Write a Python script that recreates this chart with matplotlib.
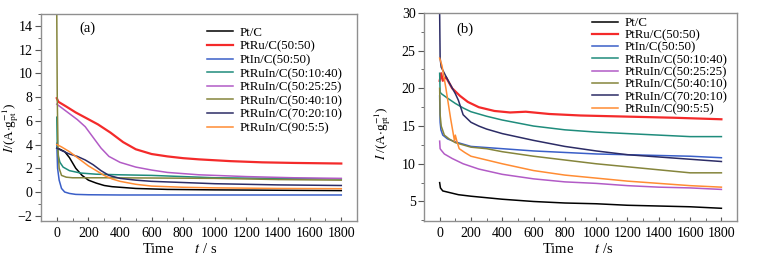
import numpy as np
import matplotlib
matplotlib.use('Agg')
from matplotlib import pyplot as plt
from matplotlib.ticker import MultipleLocator

plt.rcParams['font.family'] = ['Liberation Serif', 'DejaVu Serif']
plt.rcParams['mathtext.fontset'] = 'stix'
plt.rcParams['font.size'] = 10

labels = ['Pt/C', 'PtRu/C(50:50)', 'PtIn/C(50:50)', 'PtRuIn/C(50:10:40)',
          'PtRuIn/C(50:25:25)', 'PtRuIn/C(50:40:10)', 'PtRuIn/C(70:20:10)',
          'PtRuIn/C(90:5:5)']
colors = ['#000000', '#f42a2a', '#3a5fc8', '#1f8c7c', '#b25bc6', '#85853c',
          '#2c2c66', '#ff8c33']
widths = [1.1, 1.6, 1.1, 1.1, 1.1, 1.1, 1.1, 1.1]

# panel (a)
ta_pt = [0, 20, 50, 80, 120, 160, 200, 250, 300, 350, 400, 500, 700, 1000, 1400, 1800]
ia_pt = [3.7, 3.6, 3.4, 2.9, 2.0, 1.4, 1.0, 0.75, 0.55, 0.45, 0.4, 0.3, 0.22, 0.18, 0.15, 0.12]
ta_ru = [0, 10, 60, 120, 190, 260, 340, 420, 500, 600, 700, 800, 900, 1100, 1300, 1500, 1800]
ia_ru = [7.9, 7.6, 7.2, 6.7, 6.2, 5.7, 5.0, 4.2, 3.6, 3.2, 3.0, 2.85, 2.75, 2.6, 2.5, 2.45, 2.4]
ta_in = [0, 5, 15, 30, 50, 80, 120, 200, 400, 800, 1200, 1800]
ia_in = [4.1, 2.0, 1.0, 0.3, 0.0, -0.12, -0.2, -0.23, -0.25, -0.25, -0.25, -0.25]
ta_1040 = [0, 3, 10, 20, 40, 80, 150, 250, 400, 600, 800, 1000, 1400, 1800]
ia_1040 = [6.3, 4.0, 3.0, 2.5, 2.1, 1.8, 1.6, 1.5, 1.45, 1.4, 1.3, 1.2, 1.15, 1.1]
ta_2525 = [0, 30, 80, 130, 180, 230, 280, 330, 400, 500, 600, 700, 900, 1200, 1500, 1800]
ia_2525 = [7.4, 7.1, 6.6, 6.1, 5.5, 4.6, 3.7, 3.0, 2.5, 2.1, 1.85, 1.65, 1.45, 1.3, 1.2, 1.15]
ta_4010 = [0, 3, 8, 15, 30, 60, 100, 300, 600, 1000, 1400, 1800]
ia_4010 = [15.0, 8.0, 3.5, 2.0, 1.4, 1.25, 1.2, 1.2, 1.18, 1.15, 1.05, 1.0]
ta_7020 = [0, 30, 80, 130, 180, 230, 280, 330, 400, 500, 600, 800, 1000, 1400, 1800]
ia_7020 = [3.7, 3.5, 3.2, 3.0, 2.7, 2.3, 1.8, 1.4, 1.15, 1.0, 0.9, 0.8, 0.7, 0.6, 0.55]
ta_9055 = [0, 30, 80, 120, 160, 200, 250, 300, 350, 400, 500, 600, 800, 1000, 1400, 1800]
ia_9055 = [4.0, 3.8, 3.4, 3.0, 2.6, 2.2, 1.8, 1.4, 1.1, 0.9, 0.65, 0.5, 0.4, 0.35, 0.3, 0.28]

# panel (b)
tb_pt = [0, 5, 20, 60, 120, 200, 300, 400, 600, 800, 1000, 1200, 1400, 1600, 1800]
ib_pt = [7.5, 6.8, 6.4, 6.2, 5.9, 5.7, 5.5, 5.3, 5.0, 4.8, 4.7, 4.5, 4.4, 4.3, 4.1]
tb_ru = [0, 10, 20, 40, 80, 130, 180, 250, 350, 450, 550, 700, 900, 1100, 1300, 1500, 1800]
ib_ru = [21.0, 22.0, 21.0, 21.5, 20.0, 19.0, 18.2, 17.5, 17.0, 16.8, 16.9, 16.6, 16.4, 16.3, 16.2, 16.1, 15.9]
tb_in = [0, 3, 8, 20, 50, 100, 200, 400, 600, 800, 1000, 1200, 1400, 1600, 1800]
ib_in = [19.0, 15.5, 14.5, 13.8, 13.3, 12.9, 12.3, 12.0, 11.7, 11.5, 11.3, 11.2, 11.1, 11.0, 10.8]
tb_1040 = [0, 3, 10, 50, 100, 150, 200, 300, 400, 600, 800, 1000, 1200, 1400, 1600, 1800]
ib_1040 = [22.0, 19.5, 19.3, 18.7, 18.0, 17.4, 16.9, 16.3, 15.8, 15.0, 14.5, 14.2, 14.0, 13.8, 13.6, 13.6]
tb_2525 = [0, 3, 10, 30, 80, 150, 250, 400, 600, 800, 1000, 1200, 1400, 1600, 1800]
ib_2525 = [13.0, 12.0, 11.8, 11.3, 10.7, 10.0, 9.3, 8.6, 8.0, 7.6, 7.4, 7.1, 6.9, 6.8, 6.6]
tb_4010 = [0, 3, 10, 30, 60, 100, 200, 300, 400, 600, 800, 1000, 1200, 1400, 1600, 1800]
ib_4010 = [20.0, 16.5, 15.0, 13.8, 13.3, 12.8, 12.2, 12.0, 11.6, 11.0, 10.5, 10.0, 9.6, 9.2, 8.8, 8.8]
tb_7020 = [0, 3, 10, 30, 60, 100, 120, 150, 200, 250, 300, 400, 600, 800, 1000, 1200, 1400, 1600, 1800]
ib_7020 = [30.0, 24.0, 22.8, 22.0, 20.8, 19.3, 18.4, 16.5, 15.5, 15.0, 14.6, 14.0, 13.1, 12.3, 11.7, 11.2, 10.9, 10.6, 10.3]
tb_9055 = [0, 15, 40, 70, 95, 100, 110, 125, 160, 200, 300, 400, 600, 800, 1000, 1200, 1400, 1600, 1800]
ib_9055 = [24.0, 23.0, 20.0, 16.0, 13.0, 13.8, 13.0, 12.0, 11.5, 11.0, 10.5, 10.0, 9.1, 8.5, 8.1, 7.7, 7.4, 7.1, 6.9]

series_a = [(ta_pt, ia_pt), (ta_ru, ia_ru), (ta_in, ia_in), (ta_1040, ia_1040),
            (ta_2525, ia_2525), (ta_4010, ia_4010), (ta_7020, ia_7020), (ta_9055, ia_9055)]
series_b = [(tb_pt, ib_pt), (tb_ru, ib_ru), (tb_in, ib_in), (tb_1040, ib_1040),
            (tb_2525, ib_2525), (tb_4010, ib_4010), (tb_7020, ib_7020), (tb_9055, ib_9055)]

fig = plt.figure(figsize=(7.63, 2.58), dpi=100)
ax1 = fig.add_axes([0.0537, 0.143, 0.4143, 0.803])
ax2 = fig.add_axes([0.5557, 0.143, 0.4103, 0.807])

def style(ax):
    for s in ax.spines.values():
        s.set_color('#8f8f8f')
        s.set_linewidth(1.0)
    ax.tick_params(axis='y', which='major', direction='out', length=4, color='#555555', pad=2)
    ax.tick_params(axis='y', which='minor', direction='out', length=2, color='#555555')
    ax.tick_params(axis='x', which='major', direction='in', length=3, color='#555555', pad=4)
    ax.tick_params(axis='x', which='minor', direction='in', length=2, color='#555555')
    ax.tick_params(labelsize=10)
    ax.set_xlim(-100, 1900)
    ax.xaxis.set_major_locator(MultipleLocator(200))
    ax.xaxis.set_minor_locator(MultipleLocator(100))

for ax, series in ((ax1, series_a), (ax2, series_b)):
    for (t, i), lab, c, w in zip(series, labels, colors, widths):
        ax.plot(t, i, color=c, lw=w, label=lab)
    style(ax)

ax1.set_ylim(-2.45, 15)
ax1.yaxis.set_major_locator(MultipleLocator(2))
ax1.yaxis.set_minor_locator(MultipleLocator(1))
ax1.set_ylabel(r'$I$/(A$\cdot$g$_{\rm pt}^{-1}$)', fontsize=9.5)
ax1.yaxis.set_label_coords(-0.062, 0.45)
ax1.set_xlabel(r'Time      $t$ / s', fontsize=10.5)
ax1.xaxis.set_label_coords(0.44, -0.1)
ax1.text(0.12, 0.93, '(a)', transform=ax1.transAxes, fontsize=10.5, va='center')
ax1.legend(loc='upper left', bbox_to_anchor=(0.51, 0.962), frameon=False, fontsize=9.3,
           handlelength=2.0, handletextpad=0.5, labelspacing=0.12, borderaxespad=0)

ax2.set_ylim(2.4, 30)
ax2.yaxis.set_major_locator(MultipleLocator(5))
ax2.yaxis.set_minor_locator(MultipleLocator(2.5))
ax2.set_ylabel(r'$I$ /(A$\cdot$g$_{\rm pt}^{-1}$)', fontsize=9.5)
ax2.yaxis.set_label_coords(-0.1, 0.42)
ax2.set_xlabel(r'Time      $t$ /s', fontsize=10.5)
ax2.xaxis.set_label_coords(0.49, -0.1)
ax2.text(0.105, 0.92, '(b)', transform=ax2.transAxes, fontsize=10.5, va='center')
ax2.legend(loc='upper left', bbox_to_anchor=(0.52, 1.005), frameon=False, fontsize=9.3,
           handlelength=2.0, handletextpad=0.5, labelspacing=0.02, borderaxespad=0)

fig.savefig('out.png', dpi=100)
